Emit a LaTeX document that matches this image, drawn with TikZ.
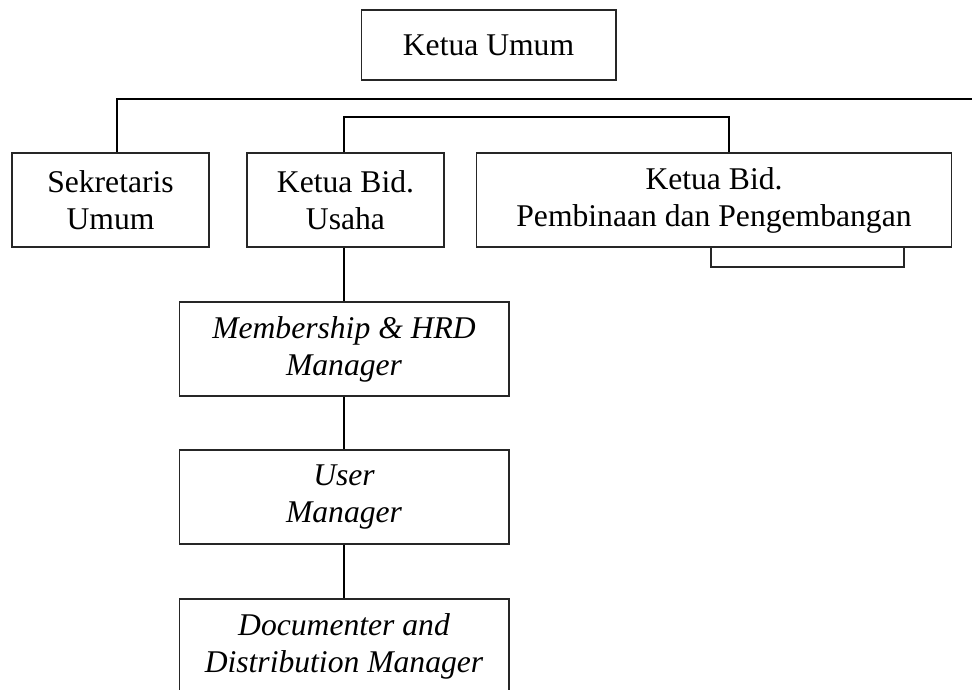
\documentclass[tikz,border=0pt]{standalone}
\usepackage{fontspec}
\setmainfont{Liberation Serif}
\usetikzlibrary{positioning}
\tikzset{
    jabatan/.style={draw=black!85, line width=0.6pt, minimum width=3.94cm, minimum height=1.88cm, align=center, font=\fontsize{18}{21}\selectfont, inner sep=2pt},
    manajer/.style={jabatan, minimum width=6.6cm, font=\fontsize{18}{21}\selectfont\itshape},
    garis/.style={line width=1.3pt},
    kurung/.style={draw=black!85, line width=0.6pt},
}

\begin{document}
\begin{tikzpicture}[x=0.02cm, y=-0.02cm]
        \useasboundingbox (0,0) rectangle (972,689);
        \node[jabatan, minimum width=5.1cm, minimum height=1.4cm] (ketum) at (488.5,45) {Ketua Umum};
        \node[jabatan] (sekum)  at (110.5,200) {Sekretaris\\ Umum};
        \node[jabatan] (usaha)  at (345.5,200) {Ketua Bid.\\ Usaha};
        \node[jabatan, minimum width=9.52cm] (bina) at (714,200) {Ketua Bid.\\ Pembinaan dan Pengembangan};
        \node[manajer] (member) at (344,349) {Membership \& HRD\\ Manager};
        \node[manajer] (user)   at (344,497) {User\\ Manager};
        \node[manajer] (doc)    at (344,646) {Documenter and\\ Distribution Manager};
        % garis utama
        \coordinate (ujung) at (972,99);
        \coordinate (turunsek) at (117,99);
        \draw[garis] (ujung) -- (turunsek) -- (turunsek |- sekum.north);
        % garis bidang
        \coordinate (kiribid) at (344,117);
        \coordinate (kananbid) at (729,117);
        \draw[garis] (kiribid |- usaha.north) -- (kiribid) -- (kananbid) -- (kananbid |- bina.north);
        \coordinate (kurungkiri) at (711,267);
        \coordinate (kurungkanan) at (904,267);
        \draw[kurung] (kurungkiri |- bina.south) -- (kurungkiri) -- (kurungkanan) -- (kurungkanan |- bina.south);
        \draw[garis] (member.north |- usaha.south) -- (member.north);
        \draw[garis] (member) -- (user);
        \draw[garis] (user) -- (doc);
    \end{tikzpicture}
\end{document}
